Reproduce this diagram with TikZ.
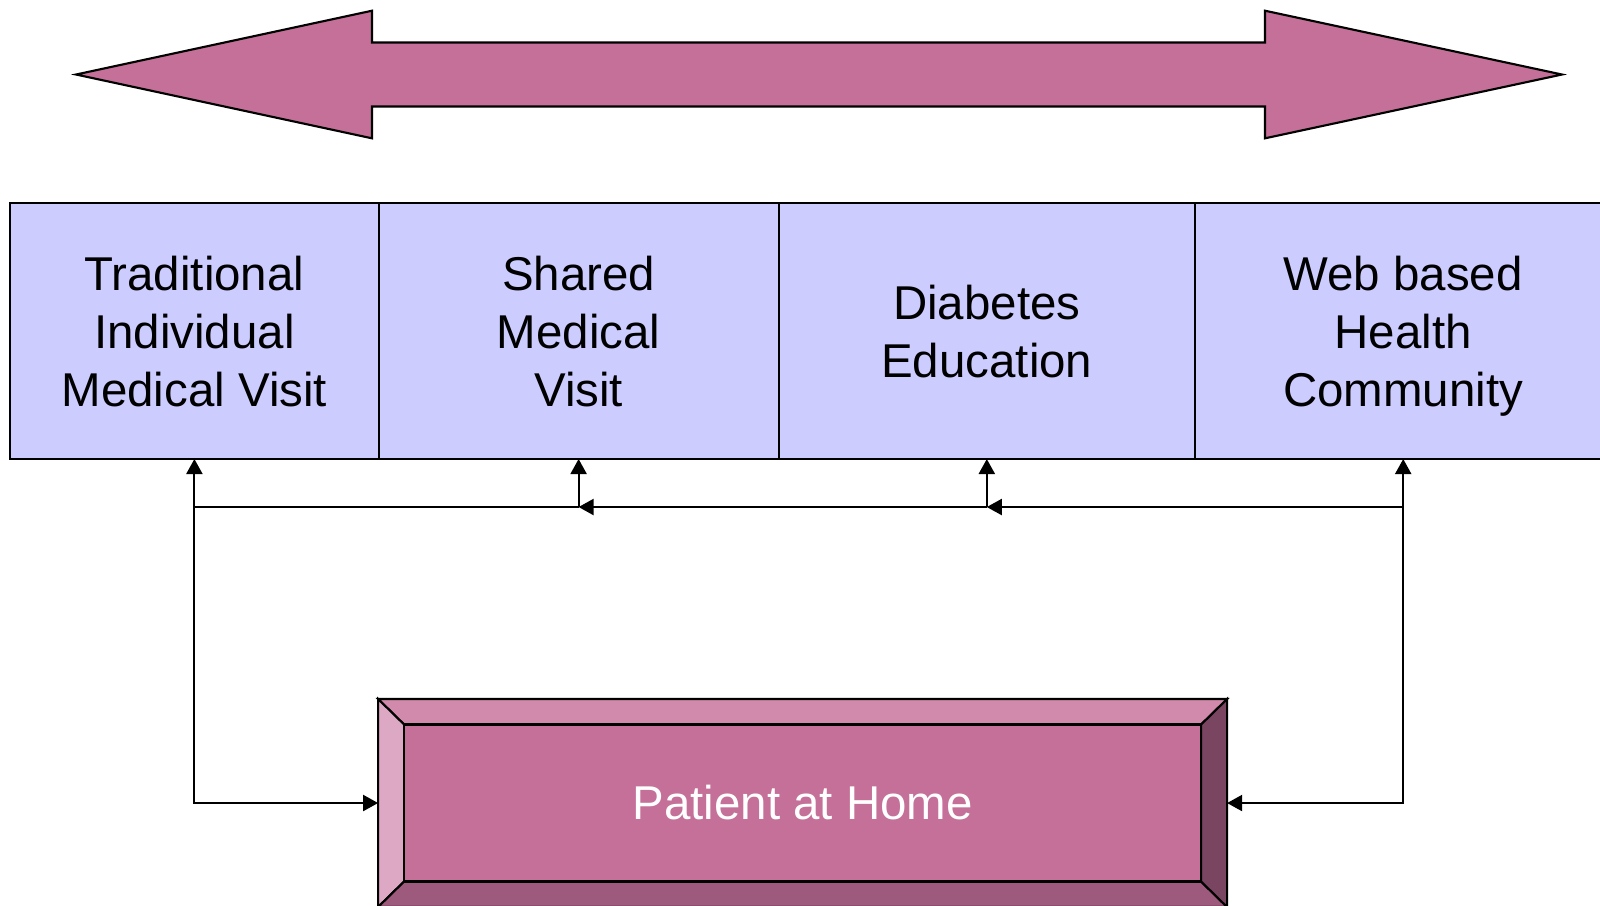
\documentclass[tikz,border=0pt]{standalone}
\usepackage{fontspec}
\setmainfont{Liberation Sans}
\usepackage{xcolor}
\usetikzlibrary{arrows.meta,positioning,calc}

\definecolor{mauve}{HTML}{C47098}
\definecolor{mauvetop}{HTML}{D18AAB}
\definecolor{mauveleft}{HTML}{DDA8C3}
\definecolor{mauvebottom}{HTML}{9E5A7C}
\definecolor{mauveright}{HTML}{7A4560}
\definecolor{lavender}{HTML}{CCCCFF}

\begin{document}
\begin{tikzpicture}[
    node distance=0cm and 0cm,
    line width=0.6pt,
    stagebox/.style={draw, fill=lavender, align=center, outer sep=0pt, text depth=0pt, minimum height=2.56cm, font=\fontsize{13.5}{16.5}\selectfont},
    homebox/.style={draw, fill=mauve, outer sep=0pt, minimum width=8.49cm, minimum height=2.08cm, text=white, font=\fontsize{13.5}{16.5}\selectfont},
    arrow/.style={-{Triangle[length=1.5mm, width=1.6mm]}},
    twoway/.style={{Triangle[length=1.5mm, width=1.6mm]}-{Triangle[length=1.5mm, width=1.6mm]}}
  ]
    \useasboundingbox (0,0) rectangle (16,-9.05);

    % double arrow on top
    \draw[fill=mauve] (0.76,-0.745) -- (3.72,-0.107) -- (3.72,-0.425) -- (12.65,-0.425) -- (12.65,-0.107)
      -- (15.62,-0.745) -- (12.65,-1.383) -- (12.65,-1.065) -- (3.72,-1.065) -- (3.72,-1.383) -- cycle;

    \node[stagebox, minimum width=3.684cm] (trad) at (1.944,-3.31) {Traditional\\Individual\\Medical Visit};
    \node[stagebox, minimum width=4cm, right=of trad] (shared) {Shared\\Medical\\Visit};
    \node[stagebox, minimum width=4.164cm, right=of shared] (diab) {Diabetes\\Education};
    \node[stagebox, minimum width=4.164cm, right=of diab] (web) {Web based\\Health\\Community};

    \node[homebox] (patient) at (8.026,-8.03) {};
    % bevel
    \coordinate (inw) at ($(patient.north west)+(0.26,-0.255)$);
    \coordinate (ine) at ($(patient.north east)+(-0.26,-0.255)$);
    \coordinate (isw) at ($(patient.south west)+(0.26,0.255)$);
    \coordinate (ise) at ($(patient.south east)+(-0.26,0.255)$);
    \draw[fill=mauvetop] (patient.north west) -- (patient.north east) -- (ine) -- (inw) -- cycle;
    \draw[fill=mauveleft] (patient.north west) -- (inw) -- (isw) -- (patient.south west) -- cycle;
    \draw[fill=mauvebottom] (patient.south west) -- (isw) -- (ise) -- (patient.south east) -- cycle;
    \draw[fill=mauveright] (patient.north east) -- (patient.south east) -- (ise) -- (ine) -- cycle;
    \draw[fill=mauve] (inw) rectangle (ise);
    \node[text=white, font=\fontsize{13.5}{16.5}\selectfont] (home) at (patient.center) {Patient at Home};

    \coordinate (bus) at (0,-5.07);

    \draw[twoway] (trad.south) -- (trad.south |- patient.west) -- (patient.west);
    \draw[twoway] (web.south) -- (web.south |- patient.east) -- (patient.east);
    \draw[arrow] (web.south |- bus) -- (diab.south |- bus);
    \draw[arrow] (diab.south |- bus) -- (shared.south |- bus);
    \draw (shared.south |- bus) -- (trad.south |- bus);
    \draw[arrow] (diab.south |- bus) -- (diab.south);
    \draw[arrow] (shared.south |- bus) -- (shared.south);
  \end{tikzpicture}
\end{document}
